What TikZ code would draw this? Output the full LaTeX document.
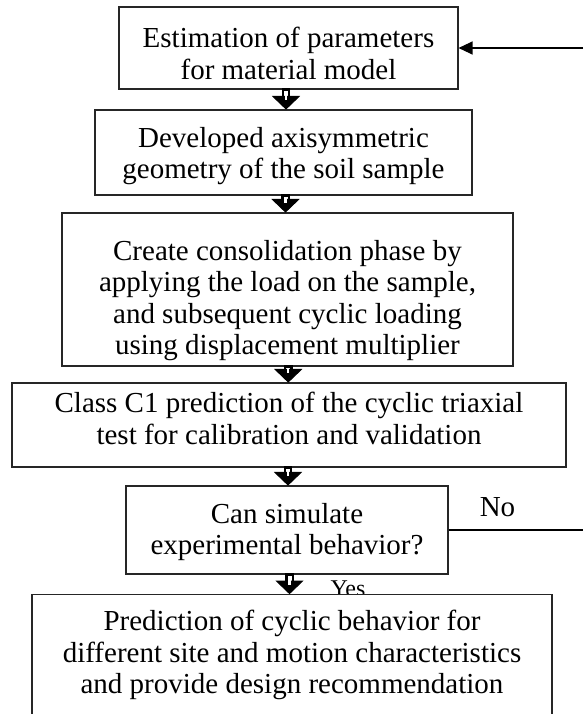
\documentclass[tikz,border=0pt]{standalone}
\usepackage{fontspec}
\setmainfont{Liberation Serif}
\usetikzlibrary{arrows.meta,calc}
\tikzset{
  box/.style={draw=black!85, line width=1.1pt, inner sep=0pt},
  txt/.style={align=center, inner sep=0pt, anchor=north,
    font=\fontsize{29}{31.5}\selectfont},
  lbl/.style={inner sep=0pt, anchor=base},
  shaft/.style={draw=black, fill=white, line width=2.4pt},
  head/.style={draw=black, fill=black, line width=1pt, line join=miter},
  fb/.style={draw=black, line width=1.2pt},
}
\newcommand{\barrow}[2]{%
  \filldraw[shaft] let \p1=(#1.south), \p2=(#2.north), \n1={(\x1+\x2)/2} in
    (\n1-3.2pt,\y1) rectangle (\n1+3.2pt,\y2+12pt);
  \filldraw[head] let \p1=(#1.south), \p2=(#2.north), \n1={(\x1+\x2)/2} in
    (\n1-13pt,\y2+13pt) -- (\n1+13pt,\y2+13pt) -- (\n1,\y2+0.5pt) -- cycle;
  \fill[white] let \p1=(#1.south), \p2=(#2.north), \n1={(\x1+\x2)/2} in
    (\n1-1.1pt,\y1-1.5pt) rectangle (\n1+1.1pt,\y2+9pt);}
\begin{document}
\begin{tikzpicture}[x=1pt,y=-1pt]
\useasboundingbox (0,0) rectangle (583,714);
\clip (0,0) rectangle (583,714);
% boxes
\node[box, minimum width=339pt, minimum height=82pt] (b1) at (288.5,48) {};
\node[box, minimum width=377pt, minimum height=85pt] (b2) at (283.5,152.5) {};
\node[box, minimum width=451pt, minimum height=153pt] (b3) at (287.5,289.5) {};
\node[box, minimum width=554pt, minimum height=84pt] (b4) at (289,425) {};
\node[box, minimum width=322pt, minimum height=88pt] (b5) at (287,530) {};
% texts
\node[txt] (t1) at (288.5,27) {Estimation of parameters\\for material model};
\node[txt] (t2) at (283.5,127) {Developed axisymmetric\\geometry of the soil sample};
\node[txt] (t3) at (287.5,240) {Create consolidation phase by\\applying the load on the sample,\\and subsequent cyclic loading\\using displacement multiplier};
\node[txt] (t4) at (289,392) {Class C1 prediction of the cyclic triaxial\\test for calibration and validation};
\node[txt] (t5) at (287,503) {Can simulate\\experimental behavior?};
% labels
\node[lbl, font=\fontsize{29}{31.5}\selectfont] (no) at (497.5,516) {No};
\node[lbl, font=\fontsize{24}{28}\selectfont] (yes) at (348,596) {Yes};
% last box (drawn over the Yes label)
\node[box, fill=white, minimum width=520pt, minimum height=140pt, anchor=north] (b6) at (292,594) {};
\node[txt] (t6) at (292,610) {Prediction of cyclic behavior for\\different site and motion characteristics\\and provide design recommendation};
% block arrows
\barrow{b1}{b2}
\barrow{b2}{b3}
\barrow{b3}{b4}
\barrow{b4}{b5}
\barrow{b5}{b6}
% feedback lines
\coordinate (e1) at (583,48);
\coordinate (e5) at (583,530);
\draw[fb, -{Triangle[length=14pt,width=13pt]}] (e1) -- (b1.east);
\draw[fb] (b5.east) -- (e5);
\end{tikzpicture}
\end{document}
